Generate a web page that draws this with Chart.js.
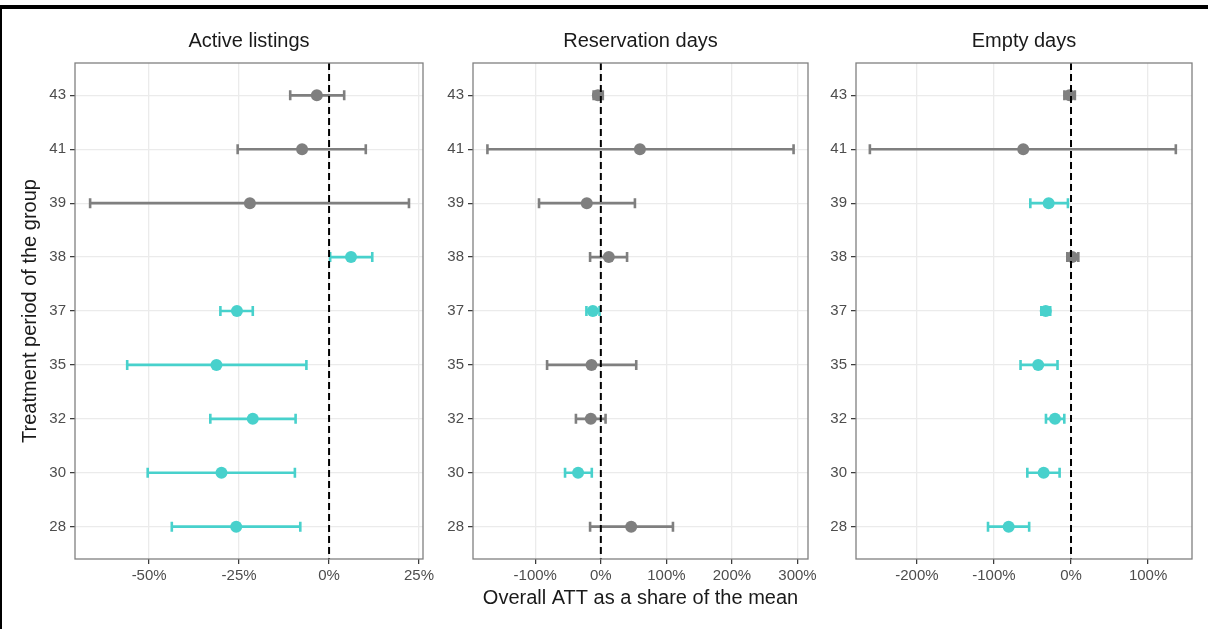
<!DOCTYPE html>
<html>
<head>
<meta charset="utf-8">
<script src="https://cdn.jsdelivr.net/npm/chart.js@4.4.1/dist/chart.umd.min.js"></script>
<style>
  body { margin: 0; background: #fff; width: 1208px; height: 629px; position: relative; overflow: hidden; }
  canvas { position: absolute; top: 0; }
  #topline { position: absolute; left: 0; top: 5px; width: 1208px; height: 4px; background: #000; }
  #leftline { position: absolute; left: 0; top: 5px; width: 2px; height: 624px; background: #000; }
</style>
</head>
<body>
<canvas id="c1" width="443" height="629" style="left:0px"></canvas>
<canvas id="c2" width="402" height="629" style="left:428px"></canvas>
<canvas id="c3" width="397" height="629" style="left:811px"></canvas>
<div id="topline"></div>
<div id="leftline"></div>
<script>
const periods = ["43", "41", "39", "38", "37", "35", "32", "30", "28"];

// Active listings (% of mean)
const listingsEst = [-3.4, -7.5, -22, 6.1, -25.6, -31.3, -21.2, -29.9, -25.8];
const listingsLo = [-10.8, -25.4, -66.4, 0.3, -30.2, -56.1, -33, -50.4, -43.7];
const listingsHi = [4.2, 10.2, 22.2, 12, -21.2, -6.3, -9.3, -9.5, -8];

// Reservation days
const reservEst = [-4.5, 59.6, -21.4, 12.2, -12.2, -14.2, -15.3, -34.7, 46.3];
const reservLo = [-11, -173, -94.3, -16.4, -22, -82, -38, -54.6, -16.4];
const reservHi = [3, 294, 52, 40, -2, 54, 7.2, -13.8, 110];

// Empty days
const emptyEst = [-2, -62, -29, 1.5, -32.8, -42.6, -20.8, -35.5, -80.9];
const emptyLo = [-8.6, -261, -52.8, -4.8, -38.5, -65.5, -32.5, -56.7, -107.7];
const emptyHi = [5, 136, -4, 9.5, -27, -17.5, -8.7, -14.8, -54.3];

const listingsTicks = [-50, -25, 0, 25];
const reservTicks = [-100, 0, 100, 200, 300];
const emptyTicks = [-200, -100, 0, 100];

const zeroLine = 0;
const grey = "#7f7f7f";
const teal = "#48d1cc";

Chart.defaults.font.family = "'Liberation Sans', Arial, sans-serif";
Chart.defaults.animation = false;

const errorBars = {
  id: "errorBars",
  beforeDatasetsDraw(chart) {
    const ctx = chart.ctx;
    const xs = chart.scales.x, ys = chart.scales.y;
    const ds = chart.data.datasets[0];
    ctx.save();
    ctx.lineWidth = 2.6;
    ds.lo.forEach((lo, i) => {
      const py = ys.getPixelForValue(i);
      const x0 = xs.getPixelForValue(lo);
      const x1 = xs.getPixelForValue(ds.hi[i]);
      ctx.strokeStyle = ds.pointBackgroundColor[i];
      ctx.beginPath();
      ctx.moveTo(x0, py); ctx.lineTo(x1, py);
      ctx.moveTo(x0, py - 5); ctx.lineTo(x0, py + 5);
      ctx.moveTo(x1, py - 5); ctx.lineTo(x1, py + 5);
      ctx.stroke();
    });
    ctx.restore();
  },
  afterDatasetsDraw(chart) {
    const ctx = chart.ctx;
    const a = chart.chartArea;
    const px = chart.scales.x.getPixelForValue(zeroLine);
    ctx.save();
    // dashed line at zero
    ctx.strokeStyle = "#000";
    ctx.lineWidth = 2;
    ctx.setLineDash([7, 4]);
    ctx.beginPath();
    ctx.moveTo(px, a.top);
    ctx.lineTo(px, a.bottom);
    ctx.stroke();
    // panel border
    ctx.setLineDash([]);
    ctx.strokeStyle = "#808080";
    ctx.lineWidth = 1.3;
    ctx.strokeRect(a.left, a.top, a.right - a.left, a.bottom - a.top);
    ctx.restore();
  }
};

function makePanel(id, title, est, lo, hi, xMin, xMax, ticks, yWidth, padRight, first, middle) {
  const colors = lo.map((l, i) => (l > 0 || hi[i] < 0) ? teal : grey);
  return new Chart(document.getElementById(id), {
    type: "scatter",
    data: {
      datasets: [{
        data: est.map((v, i) => ({ x: v, y: i })),
        lo: lo,
        hi: hi,
        pointBackgroundColor: colors,
        pointBorderWidth: 0,
        pointRadius: 6,
      }],
    },
    options: {
      responsive: false,
      devicePixelRatio: 1,
      layout: { padding: { left: 0, right: padRight, top: 0, bottom: 0 } },
      plugins: {
        legend: { display: false },
        tooltip: { enabled: false },
        title: {
          display: true,
          text: title,
          fullSize: false,
          color: "#1a1a1a",
          font: { size: 20, weight: "normal" },
          padding: { top: 29, bottom: 10 },
        },
      },
      scales: {
        x: {
          type: "linear",
          min: xMin,
          max: xMax,
          afterBuildTicks: (s) => { s.ticks = ticks.map((v) => ({ value: v })); },
          afterFit: (s) => { s.height = 70; },
          ticks: {
            color: "#4d4d4d",
            font: { size: 15 },
            padding: 3,
            maxRotation: 0,
            callback: (v) => v + "%",
          },
          grid: { color: "#ebebeb", lineWidth: 1.3, tickColor: "#333", tickLength: 5, tickWidth: 1.2 },
          border: { display: false },
          title: {
            display: middle,
            text: "Overall ATT as a share of the mean",
            color: "#1a1a1a",
            font: { size: 20 },
            padding: { top: 0, bottom: 19 },
          },
        },
        y: {
          type: "linear",
          min: -0.6,
          max: periods.length - 0.4,
          reverse: true,
          afterBuildTicks: (s) => { s.ticks = periods.map((p, i) => ({ value: i })); },
          afterFit: (s) => { s.width = yWidth; },
          ticks: {
            color: "#4d4d4d",
            font: { size: 15 },
            padding: 4,
            callback: (v) => periods[v],
          },
          grid: { color: "#ebebeb", lineWidth: 1.3, tickColor: "#333", tickLength: 5, tickWidth: 1.2 },
          border: { display: false },
          title: {
            display: first,
            text: "Treatment period of the group",
            color: "#1a1a1a",
            font: { size: 20 },
            padding: { top: 18, bottom: 0 },
          },
        },
      },
    },
    plugins: [errorBars],
  });
}

makePanel("c1", "Active listings", listingsEst, listingsLo, listingsHi, -70.6, 26.1, listingsTicks, 75, 20, true, false);
makePanel("c2", "Reservation days", reservEst, reservLo, reservHi, -195, 316, reservTicks, 45, 22, false, true);
makePanel("c3", "Empty days", emptyEst, emptyLo, emptyHi, -279, 157, emptyTicks, 45, 16, false, false);
</script>
</body>
</html>
